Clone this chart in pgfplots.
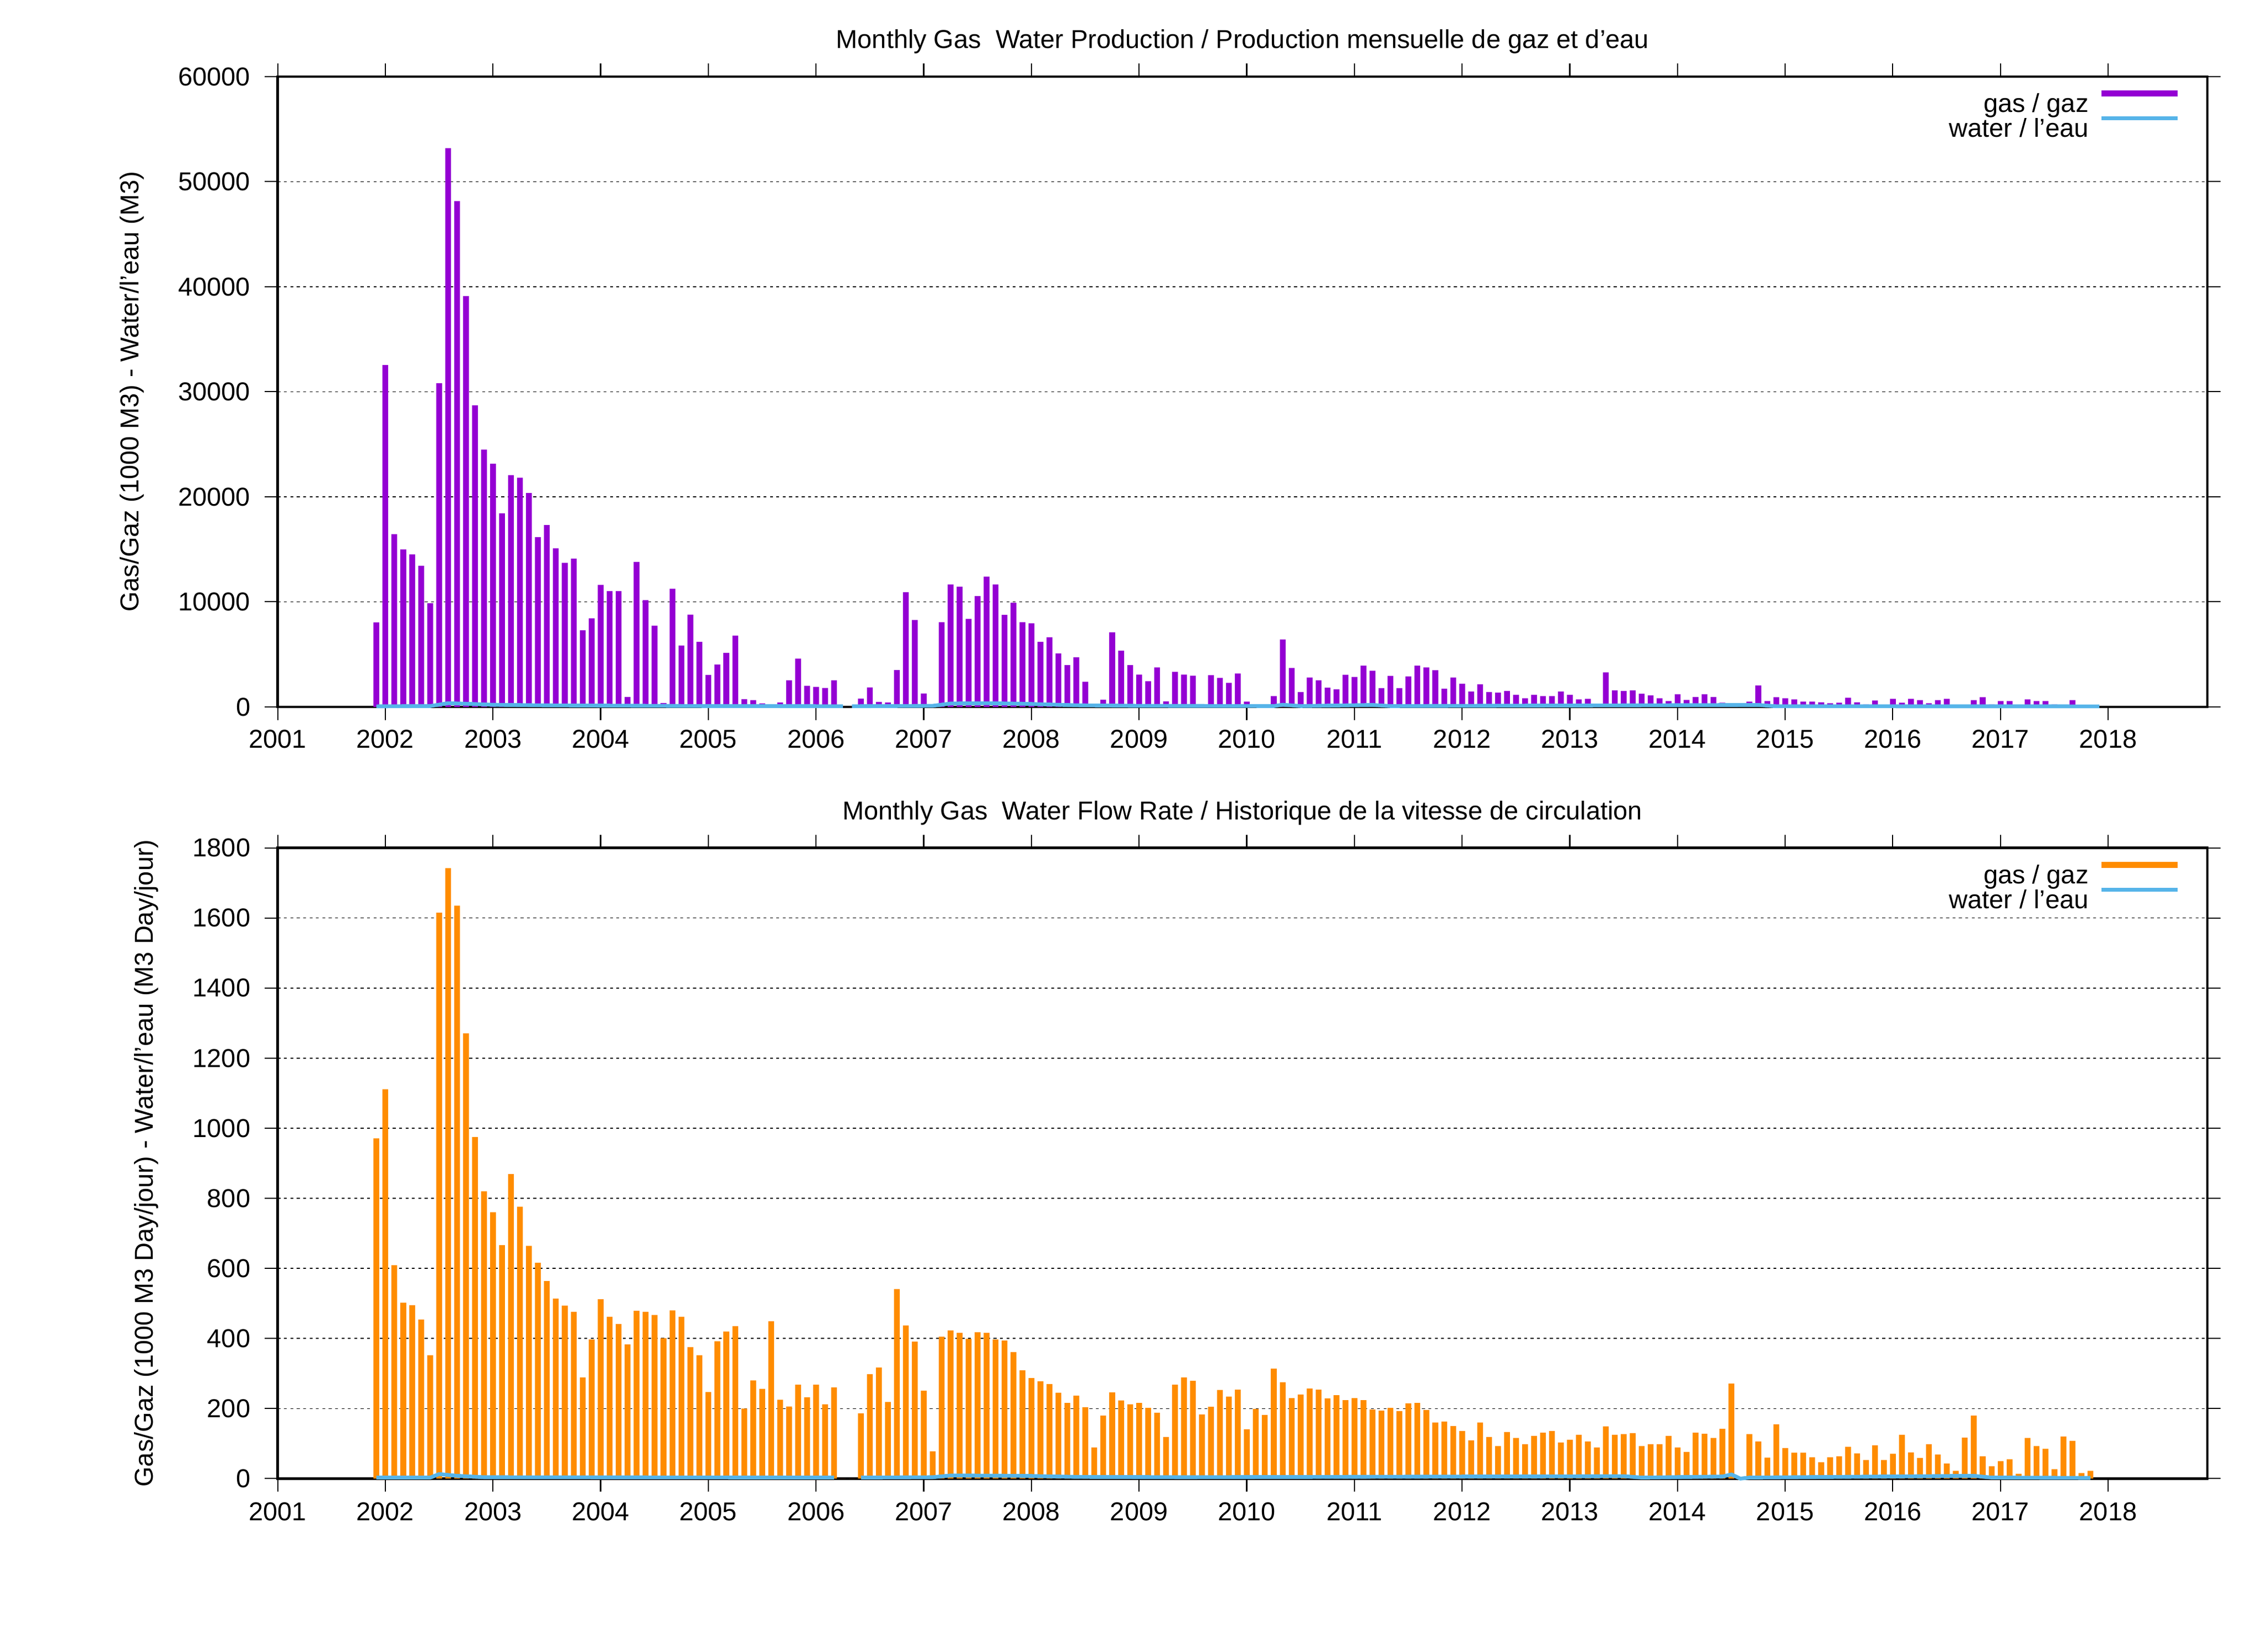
\documentclass[border=0pt]{standalone}
\usepackage{fontspec}
\setmainfont{Liberation Sans}
\usepackage{pgfplots}
\usepackage{pgfplotstable}
\pgfplotsset{compat=1.18}
\definecolor{gaspurple}{HTML}{9400D3}
\definecolor{gasorange}{HTML}{FF8C00}
\definecolor{waterblue}{HTML}{56B4E9}

\pgfplotstableread{
yr mo gas rate
2001 12 8050 971
2002 1 32550 1111
2002 2 16440 609
2002 3 14990 502
2002 4 14510 495
2002 5 13430 454
2002 6 9870 352
2002 7 30810 1615
2002 8 53190 1742
2002 9 48150 1635
2002 10 39110 1271
2002 11 28700 975
2002 12 24490 820
2003 1 23150 760
2003 2 18430 666
2003 3 22060 869
2003 4 21810 776
2003 5 20360 664
2003 6 16150 616
2003 7 17310 564
2003 8 15090 514
2003 9 13720 494
2003 10 14110 476
2003 11 7290 289
2003 12 8420 397
2004 1 11610 512
2004 2 11030 462
2004 3 11030 441
2004 4 940 383
2004 5 13790 479
2004 6 10160 476
2004 7 7730 467
2004 8 360 401
2004 9 11250 480
2004 10 5840 462
2004 11 8780 375
2004 12 6200 352
2005 1 3050 247
2005 2 4030 392
2005 3 5150 420
2005 4 6790 435
2005 5 730 200
2005 6 650 280
2005 7 330 256
2005 8 220 449
2005 9 424 225
2005 10 2540 206
2005 11 4590 268
2005 12 2010 232
2006 1 1910 268
2006 2 1800 212
2006 3 2540 260
2006 4 0 0
2006 5 0 0
2006 6 795 186
2006 7 1855 298
2006 8 477 317
2006 9 424 219
2006 10 3500 541
2006 11 10920 437
2006 12 8270 391
2007 1 1270 251
2007 2 0 78
2007 3 8060 405
2007 4 11660 423
2007 5 11450 416
2007 6 8370 399
2007 7 10550 418
2007 8 12400 416
2007 9 11660 397
2007 10 8750 394
2007 11 9910 361
2007 12 8060 309
2008 1 7950 287
2008 2 6200 278
2008 3 6630 270
2008 4 5090 245
2008 5 3980 216
2008 6 4720 237
2008 7 2390 204
2008 8 160 89
2008 9 690 180
2008 10 7100 246
2008 11 5350 223
2008 12 3980 212
2009 1 3070 216
2009 2 2440 202
2009 3 3760 188
2009 4 530 119
2009 5 3340 268
2009 6 3070 289
2009 7 2970 279
2009 8 0 183
2009 9 3020 205
2009 10 2760 253
2009 11 2280 234
2009 12 3180 254
2010 1 500 141
2010 2 0 199
2010 3 0 182
2010 4 1030 314
2010 5 6420 275
2010 6 3700 230
2010 7 1400 240
2010 8 2790 257
2010 9 2530 254
2010 10 1830 229
2010 11 1670 238
2010 12 3060 224
2011 1 2850 230
2011 2 3920 224
2011 3 3440 197
2011 4 1780 194
2011 5 2950 202
2011 6 1780 193
2011 7 2900 215
2011 8 3920 216
2011 9 3760 196
2011 10 3490 160
2011 11 1730 163
2011 12 2790 150
2012 1 2210 136
2012 2 1460 109
2012 3 2150 160
2012 4 1400 119
2012 5 1350 93
2012 6 1510 133
2012 7 1140 116
2012 8 820 98
2012 9 1140 122
2012 10 1030 131
2012 11 1030 136
2012 12 1460 103
2013 1 1140 111
2013 2 710 125
2013 3 765 106
2013 4 70 89
2013 5 3280 149
2013 6 1570 125
2013 7 1510 127
2013 8 1570 130
2013 9 1250 93
2013 10 1090 98
2013 11 820 98
2013 12 550 122
2014 1 1190 89
2014 2 660 76
2014 3 930 131
2014 4 1190 128
2014 5 930 116
2014 6 390 142
2014 7 0 271
2014 8 0 0
2014 9 500 127
2014 10 2040 106
2014 11 550 60
2014 12 920 155
2015 1 815 87
2015 2 710 74
2015 3 500 74
2015 4 500 61
2015 5 440 47
2015 6 340 61
2015 7 390 64
2015 8 870 91
2015 9 440 72
2015 10 230 53
2015 11 600 95
2015 12 120 53
2016 1 760 71
2016 2 390 125
2016 3 760 75
2016 4 650 59
2016 5 340 98
2016 6 650 69
2016 7 760 43
2016 8 120 22
2016 9 0 117
2016 10 650 180
2016 11 920 64
2016 12 230 35
2017 1 550 50
2017 2 550 55
2017 3 0 14
2017 4 710 116
2017 5 550 93
2017 6 550 85
2017 7 230 27
2017 8 0 120
2017 9 650 108
2017 10 180 16
2017 11 0 22
}\prodtable

\pgfplotstableread{
x w
2001.917 50
2002.417 80
2002.583 350
2002.75 300
2003.0 200
2003.417 150
2004.0 120
2005.0 80
2006.25 60
nan nan
2006.333 60
2007.083 100
2007.25 320
2007.583 350
2007.917 300
2008.417 150
2009.0 100
2010.25 80
2010.333 200
2010.5 80
2011.167 180
2011.333 80
2014.75 180
2014.917 60
2017.917 50
}\watertop

\pgfplotstableread{
x w
2001.917 3
2002.417 3
2002.5 13
2002.667 8
2002.917 4
2006.167 3
nan nan
2006.417 3
2007.083 4
2007.25 9
2007.917 8
2008.417 5
2009.417 4
2013.5 7
2013.667 3
2014.417 6
2014.5 12
2014.583 0
2014.667 3
2016.75 8
2016.917 3
2017.833 2
}\waterbot

\pgfplotsset{
  myaxis/.style={
    scale only axis, width=664.1pt,
    xmin=2001, xmax=2018.92, ymin=0,
    xtick={2001,2002,...,2018},
    tick align=outside, major tick length=4.5pt,
    tick style={black, line width=0.4pt},
    axis line style={line width=0.8pt},
    minor tick num=0,
    ymajorgrids,
    grid style={black, line width=0.3pt, dash pattern=on 1pt off 1.2pt},
    scaled ticks=false,
    /pgf/number format/1000 sep={},
    /pgf/number format/assume math mode=true,
    xticklabel style={anchor=base, inner sep=0pt, yshift=-9.7pt},
    yticklabel style={anchor=east, inner sep=0pt, xshift=-4.7pt},
    title style={at={(axis description cs:0.5,1)}, anchor=base, yshift=3.7pt, inner sep=0pt},
    legend plot pos=right, legend cell align=right,
    legend style={draw=none, fill=none, at={(axis description cs:1,1)}, anchor=north east,
      xshift=-9.2pt, yshift=-4.8pt, inner sep=0pt, outer sep=0pt,
      column sep=3.4pt, row sep=1.4pt,
      nodes={inner sep=0pt, text height=6.5pt, text depth=0pt}},
    clip=false,
    unbounded coords=jump,
  }
}

\begin{document}
\fontsize{8.9}{10.7}\selectfont
\begin{tikzpicture}
\path[use as bounding box] (0,0) rectangle (780.5pt,568pt);

\begin{axis}[myaxis,
  at={(95.54pt,324.8pt)}, anchor=south west,
  height=216.85pt,
  ymax=60000, ytick={0,10000,...,60000},
  title={Monthly Gas\ \ Water Production / Production mensuelle de gaz et d’eau},
  ylabel={Gas/Gaz (1000 M3) - Water/l’eau (M3)},
  every axis y label/.style={at={(axis description cs:-0.0755,0.5)}, anchor=center, rotate=90},
]
\addplot[ybar, bar width=0.054, fill=gaspurple, draw=none,
  legend image code/.code={\draw[line width=2.1pt, gaspurple] (0pt,3.2pt) -- (26.2pt,3.2pt);}]
  table[x expr=\thisrow{yr}+(\thisrow{mo}-1)/12, y=gas] {\prodtable};
\addlegendentry{gas / gaz}
\addplot[waterblue, line width=1.3pt, line join=round,
  legend image code/.code={\draw[line width=1.3pt, waterblue] (0pt,3.2pt) -- (26.2pt,3.2pt);}]
  table[x=x, y=w] {\watertop};
\addlegendentry{water / l’eau}
\end{axis}

\begin{axis}[myaxis,
  at={(95.54pt,59.29pt)}, anchor=south west,
  height=217.0pt,
  ymax=1800, ytick={0,200,...,1800},
  xticklabel style={yshift=-0.3pt},
  title={Monthly Gas\ \ Water Flow Rate / Historique de la vitesse de circulation},
  ylabel={Gas/Gaz (1000 M3 Day/jour) - Water/l’eau (M3 Day/jour)},
  every axis y label/.style={at={(axis description cs:-0.068,0.5)}, anchor=center, rotate=90},
]
\addplot[ybar, bar width=0.054, fill=gasorange, draw=none,
  legend image code/.code={\draw[line width=2.1pt, gasorange] (0pt,3.2pt) -- (26.2pt,3.2pt);}]
  table[x expr=\thisrow{yr}+(\thisrow{mo}-1)/12, y=rate] {\prodtable};
\addlegendentry{gas / gaz}
\addplot[waterblue, line width=1.3pt, line join=round,
  legend image code/.code={\draw[line width=1.3pt, waterblue] (0pt,3.2pt) -- (26.2pt,3.2pt);}]
  table[x=x, y=w] {\waterbot};
\addlegendentry{water / l’eau}
\end{axis}
\end{tikzpicture}
\end{document}
